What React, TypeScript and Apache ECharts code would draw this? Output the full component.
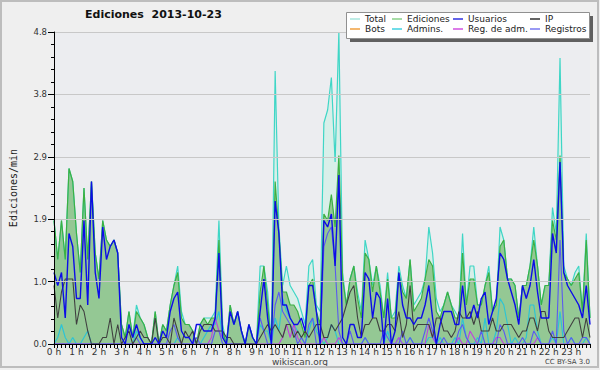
import React, { useEffect, useRef } from "react";
import * as echarts from "echarts";

const FONT = "DejaVu Sans";

const HOUR_LABELS = [
  "0 h", "1 h", "2 h", "3 h", "4 h", "5 h", "6 h", "7 h", "8 h", "9 h", "10 h", "11 h",
  "12 h", "13 h", "14 h", "15 h", "16 h", "17 h", "18 h", "19 h", "20 h", "21 h", "22 h", "23 h",
];
const MINUTES = ["00", "10", "20", "30", "40", "50"];
const CATEGORIES = HOUR_LABELS.flatMap((_, h) => MINUTES.map((m) => `${h}:${m}`));

const Y_MAX = 4.8;
const Y_STEP = 0.96;

const TOTAL = [
  1.9, 1.3, 1.9, 1.3, 2.7, 2.5, 1.7, 1.1, 2.4, 1.3, 2.5, 1.4,
  1.0, 1.9, 1.6, 1.5, 1.6, 1.4, 0.3, 0.1, 0.5, 0.1, 0.6, 0.4,
  0.3, 0.1, 0.0, 0.5, 0.0, 0.3, 0.2, 0.6, 0.9, 1.2, 0.5, 0.3,
  0.3, 0.2, 0.0, 0.3, 0.4, 0.4, 0.4, 0.5, 1.9, 0.3, 0.0, 0.6,
  0.3, 0.5, 0.2, 0.0, 0.3, 0.1, 0.0, 1.2, 1.2, 0.8, 0.0, 4.2,
  1.8, 0.9, 1.2, 0.9, 0.8, 0.7, 0.5, 0.3, 1.2, 1.3, 0.6, 0.5,
  3.4, 3.6, 4.1, 2.8, 4.8, 1.1, 0.6, 1.0, 1.2, 0.8, 0.5, 1.6,
  1.3, 0.9, 1.2, 0.9, 0.4, 1.1, 0.4, 0.5, 1.2, 0.9, 0.7, 1.3,
  0.6, 0.7, 0.8, 1.0, 1.8, 1.4, 0.7, 0.5, 0.6, 0.8, 0.6, 0.5,
  0.4, 1.7, 0.6, 1.2, 1.2, 0.6, 0.6, 0.9, 1.2, 0.5, 0.6, 1.8,
  1.6, 1.0, 1.0, 0.9, 0.4, 0.9, 0.9, 1.2, 1.8, 1.2, 0.6, 0.9,
  0.9, 2.1, 1.7, 4.4, 1.2, 1.0, 0.9, 1.1, 1.2, 0.5, 1.7, 0.4,
];

const EDICIONES = [
  1.9, 1.3, 1.9, 1.3, 2.7, 2.5, 1.7, 1.1, 2.4, 1.3, 2.5, 1.4,
  1.0, 1.9, 1.6, 1.5, 1.6, 1.4, 0.3, 0.1, 0.5, 0.1, 0.5, 0.4,
  0.3, 0.1, 0.0, 0.5, 0.0, 0.3, 0.2, 0.6, 0.9, 1.1, 0.4, 0.3,
  0.3, 0.2, 0.0, 0.3, 0.4, 0.3, 0.4, 0.4, 1.6, 0.2, 0.0, 0.6,
  0.3, 0.5, 0.2, 0.0, 0.3, 0.1, 0.0, 0.8, 1.2, 0.6, 0.0, 2.5,
  1.7, 0.8, 0.8, 0.6, 0.6, 0.5, 0.3, 0.1, 0.9, 1.0, 0.5, 0.3,
  2.0, 1.9, 2.3, 1.8, 2.9, 1.0, 0.6, 1.0, 1.2, 0.7, 0.4, 1.4,
  1.3, 0.8, 1.2, 0.8, 0.4, 1.0, 0.4, 0.4, 1.1, 0.8, 0.7, 1.3,
  0.5, 0.6, 0.7, 1.0, 1.3, 1.2, 0.5, 0.4, 0.6, 0.8, 0.6, 0.4,
  0.4, 1.4, 0.6, 1.0, 1.0, 0.6, 0.6, 0.9, 1.1, 0.5, 0.6, 1.5,
  1.6, 1.0, 1.0, 0.9, 0.4, 0.9, 0.9, 1.2, 1.6, 1.2, 0.6, 0.9,
  0.9, 1.9, 1.6, 2.9, 1.1, 1.0, 0.9, 1.0, 1.1, 0.5, 1.6, 0.4,
];

const USUARIOS = [
  1.1, 0.9, 1.1, 0.4, 1.7, 1.5, 0.7, 0.7, 1.9, 0.6, 2.5, 1.1,
  0.7, 1.8, 1.3, 1.5, 1.6, 1.4, 0.1, 0.0, 0.3, 0.1, 0.3, 0.1,
  0.0, 0.0, 0.0, 0.1, 0.0, 0.2, 0.1, 0.5, 0.7, 0.8, 0.2, 0.1,
  0.1, 0.0, 0.3, 0.3, 0.2, 0.2, 0.2, 0.4, 1.4, 0.1, 0.0, 0.5,
  0.3, 0.5, 0.2, 0.0, 0.3, 0.1, 0.0, 0.5, 1.0, 0.4, 0.0, 2.2,
  1.7, 0.6, 0.6, 0.4, 0.3, 0.3, 0.4, 0.2, 0.9, 0.9, 0.5, 0.0,
  1.9, 1.8, 2.0, 1.2, 2.6, 0.1, 0.0, 0.3, 0.3, 0.1, 0.1, 1.1,
  1.0, 0.4, 0.8, 0.7, 0.0, 0.7, 0.0, 0.2, 1.1, 0.6, 0.4, 0.4,
  0.3, 0.4, 0.4, 0.6, 0.9, 0.4, 0.0, 0.3, 0.5, 0.5, 0.5, 0.3,
  0.3, 0.9, 0.4, 0.4, 0.6, 0.4, 0.7, 0.8, 0.3, 0.5, 0.7, 1.4,
  1.3, 1.0, 0.8, 0.6, 0.3, 0.9, 0.7, 0.9, 1.3, 0.8, 0.4, 0.4,
  0.4, 1.7, 1.4, 2.8, 1.1, 0.9, 0.8, 0.7, 0.6, 0.4, 0.9, 0.3,
];

const IP = [
  0.9, 0.4, 0.8, 1.0, 1.0, 1.0, 0.3, 0.6, 0.5, 0.2, 0.0, 0.0,
  0.0, 0.1, 0.1, 0.4, 0.0, 0.3, 0.0, 0.1, 0.2, 0.0, 0.1, 0.2,
  0.1, 0.1, 0.0, 0.4, 0.0, 0.1, 0.1, 0.0, 0.4, 0.2, 0.0, 0.2,
  0.1, 0.2, 0.0, 0.2, 0.3, 0.3, 0.3, 0.2, 0.2, 0.2, 0.1, 0.1,
  0.0, 0.0, 0.0, 0.0, 0.0, 0.0, 0.0, 0.1, 0.2, 0.3, 0.2, 0.3,
  0.2, 0.1, 0.3, 0.3, 0.1, 0.2, 0.1, 0.2, 0.1, 0.2, 0.3, 0.3,
  0.1, 0.1, 0.3, 0.2, 0.3, 0.4, 0.6, 0.8, 0.9, 0.4, 0.1, 0.3,
  0.3, 0.4, 0.4, 0.2, 0.2, 0.3, 0.3, 0.2, 0.5, 0.1, 0.3, 0.9,
  0.2, 0.3, 0.3, 0.3, 0.3, 0.1, 0.4, 0.4, 0.2, 0.2, 0.1, 0.2,
  0.5, 0.4, 0.4, 0.5, 0.3, 0.5, 0.2, 0.2, 0.2, 0.4, 0.2, 0.2,
  0.3, 0.3, 0.3, 0.2, 0.1, 0.2, 0.2, 0.4, 0.4, 0.2, 0.5, 0.5,
  0.2, 0.1, 0.1, 0.1, 0.1, 0.2, 0.3, 0.4, 0.4, 0.1, 0.4, 0.1,
];

const BOTS: number[] = [];

const ADMINS = [
  0.0, 0.1, 0.3, 0.1, 0.0, 0.1, 0.0, 0.0, 0.1, 0.2, 0.0, 0.0,
  0.0, 0.0, 0.0, 0.0, 0.0, 0.0, 0.0, 0.0, 0.0, 0.0, 0.2, 0.1,
  0.0, 0.0, 0.0, 0.0, 0.0, 0.0, 0.0, 0.0, 0.0, 0.1, 0.0, 0.0,
  0.0, 0.0, 0.0, 0.0, 0.1, 0.2, 0.3, 0.3, 0.5, 0.1, 0.0, 0.0,
  0.0, 0.0, 0.0, 0.0, 0.0, 0.0, 0.0, 0.3, 0.2, 0.2, 0.0, 0.4,
  0.2, 0.7, 0.5, 0.4, 0.3, 0.2, 0.1, 0.0, 0.2, 0.4, 0.2, 0.1,
  0.0, 0.1, 0.3, 0.2, 0.0, 0.0, 0.0, 0.0, 0.0, 0.0, 0.0, 0.1,
  0.0, 0.0, 0.0, 0.0, 0.0, 0.2, 0.0, 0.0, 0.1, 0.0, 0.0, 0.1,
  0.0, 0.0, 0.0, 0.0, 0.1, 0.1, 0.0, 0.1, 0.0, 0.0, 0.0, 0.1,
  0.0, 0.4, 0.1, 0.0, 0.0, 0.1, 0.0, 0.4, 0.0, 0.0, 0.2, 0.7,
  0.6, 0.3, 0.0, 0.1, 0.0, 0.0, 0.1, 0.6, 0.6, 0.2, 0.0, 0.0,
  0.0, 0.1, 0.0, 0.5, 0.0, 0.0, 0.1, 0.0, 0.0, 0.0, 0.1, 0.0,
];

const REG_ADM = [
  0, 0, 0, 0, 0, 0, 0, 0, 0, 0, 0, 0,
  0, 0, 0, 0, 0, 0, 0, 0, 0, 0, 0, 0,
  0, 0, 0, 0, 0, 0, 0, 0, 0, 0, 0, 0,
  0, 0, 0, 0, 0, 0, 0.1, 0.4, 0.2, 0.1, 0, 0,
  0, 0, 0, 0, 0, 0, 0, 0, 0, 0, 0, 0,
  0, 0.1, 0.3, 0.1, 0.3, 0.1, 0, 0, 0, 0, 0, 0,
  0.1, 0, 0, 0, 0.1, 0, 0, 0, 0, 0, 0, 0,
  0, 0, 0, 0, 0, 0, 0, 0, 0.1, 0, 0, 0,
  0, 0, 0, 0, 0.3, 0.1, 0, 0, 0, 0, 0, 0,
  0.1, 0, 0, 0.2, 0.1, 0, 0, 0, 0, 0, 0.1, 0.1,
  0, 0, 0, 0, 0, 0, 0, 0, 0, 0.1, 0, 0,
  0, 0, 0, 0, 0, 0, 0, 0, 0, 0, 0, 0,
];

const REGISTROS = [
  0, 0, 0, 0, 0, 0, 0, 0, 0, 0, 0, 0,
  0, 0, 0, 0, 0, 0, 0, 0, 0, 0, 0.1, 0,
  0, 0, 0, 0, 0, 0, 0, 0.2, 0.3, 0.1, 0, 0,
  0, 0, 0.1, 0, 0, 0, 0, 0.2, 0.2, 0, 0, 0,
  0, 0, 0, 0, 0, 0, 0, 0.4, 0.2, 0, 0, 0.6,
  0.8, 0.5, 0.4, 0.3, 0.2, 0, 0.1, 0, 0.3, 0.4, 0, 0,
  1.5, 1.7, 1.8, 1.2, 0.2, 0, 0, 0.2, 0, 0, 0, 0.1,
  0, 0, 0, 0, 0.2, 0.1, 0, 0, 0, 0.2, 0, 0.1,
  0, 0, 0, 0.2, 0.4, 0.2, 0, 0, 0.1, 0, 0, 0,
  0.2, 0.3, 0.1, 0, 0, 0, 0.2, 0, 0, 0, 0, 0.3,
  0.2, 0, 0, 0, 0, 0.1, 0, 0, 0.2, 0.1, 0, 0,
  0, 0.2, 0, 1.6, 0.2, 0, 0.1, 0, 0, 0.1, 0.1, 0,
];

function lineSeries(name: string, data: number[], color: string, width: number, area?: string) {
  return {
    name,
    type: "line",
    data,
    symbol: "none",
    showSymbol: false,
    smooth: false,
    lineStyle: { color, width },
    itemStyle: { color },
    areaStyle: area ? { color: area, opacity: 1 } : undefined,
    emphasis: { disabled: true },
  };
}

const legendBase = {
  orient: "vertical",
  top: 14,
  padding: 0,
  itemGap: 0,
  itemWidth: 10,
  itemHeight: 1.5,
  icon: "rect",
  selectedMode: false,
  z: 20,
  textStyle: { fontSize: 9, fontFamily: FONT, color: "#222", lineHeight: 10 },
};

function legendItem(name: string, color: string) {
  return { name, itemStyle: { color, borderWidth: 0 } };
}

export default function App() {
  const ref = useRef<HTMLDivElement>(null);
  useEffect(() => {
    if (!ref.current) return;
    const chart = echarts.init(ref.current, null, { renderer: "svg" });
    chart.setOption({
      animation: false,
      backgroundColor: "#efefef",
      textStyle: { fontFamily: FONT },
      title: {
        text: "Ediciones  2013-10-23",
        left: 85,
        top: 9,
        padding: 0,
        textStyle: { fontSize: 11, fontWeight: "bold", fontFamily: FONT, color: "#111" },
      },
      legend: [
        { ...legendBase, left: 350, data: [legendItem("Total", "#a8e6de"), legendItem("Bots", "#f0a040")] },
        { ...legendBase, left: 392, data: [legendItem("Ediciones", "#88d088"), legendItem("Admins.", "#40d0e0")] },
        { ...legendBase, left: 453, data: [legendItem("Usuarios", "#3030e0"), legendItem("Reg. de adm.", "#d050e0")] },
        { ...legendBase, left: 530, data: [legendItem("IP", "#303030"), legendItem("Registros", "#7878f0")] },
      ],
      grid: {
        left: 46,
        right: 10,
        top: 32,
        bottom: 26,
        show: true,
        backgroundColor: "#ecedf0",
        borderWidth: 0,
      },
      xAxis: {
        type: "category",
        data: CATEGORIES,
        boundaryGap: false,
        z: 10,
        axisLine: { lineStyle: { color: "#000", width: 1 } },
        axisTick: { show: true, interval: 0, length: 4, lineStyle: { color: "#000" } },
        axisLabel: {
          interval: (index: number) => index % 6 === 0,
          formatter: (_: string, index: number) => HOUR_LABELS[Math.floor(index / 6)],
          margin: 3,
          fontSize: 9,
          fontFamily: FONT,
          color: "#333",
        },
        splitLine: { show: false },
      },
      yAxis: {
        type: "value",
        min: 0,
        max: Y_MAX,
        interval: Y_STEP,
        z: 10,
        name: "Ediciones/min",
        nameLocation: "middle",
        nameGap: 36,
        nameRotate: 90,
        nameTextStyle: { fontFamily: "DejaVu Sans Mono", fontSize: 10, color: "#222" },
        axisLine: { show: true, lineStyle: { color: "#000", width: 1 } },
        axisTick: { show: true, length: 6, lineStyle: { color: "#000" } },
        minorTick: { show: true, splitNumber: 5, length: 3, lineStyle: { color: "#000" } },
        axisLabel: {
          formatter: (v: number) => v.toFixed(1),
          margin: 7,
          fontSize: 8.5,
          fontFamily: FONT,
          color: "#333",
        },
        splitLine: { show: true, lineStyle: { color: "#c8c8c8", width: 1 } },
      },
      series: [
        lineSeries("Total", TOTAL, "#3fd6c6", 1.2, "#d8efe9"),
        lineSeries("Ediciones", EDICIONES, "#3cb043", 1.2, "#94c894"),
        lineSeries("Bots", BOTS, "#f0a040", 1.2),
        lineSeries("Admins.", ADMINS, "#2ec4d4", 1.2),
        lineSeries("Reg. de adm.", REG_ADM, "#c040e0", 1.1),
        lineSeries("Registros", REGISTROS, "#5a5af0", 1.1),
        lineSeries("IP", IP, "#404040", 1.1),
        lineSeries("Usuarios", USUARIOS, "#0c0ce8", 1.4),
      ],
      graphic: [
        {
          type: "rect",
          silent: true,
          z: 15,
          shape: { x: 350, y: 16, width: 243, height: 26 },
          style: { fill: "#606060" },
        },
        {
          type: "rect",
          silent: true,
          z: 16,
          shape: { x: 346.5, y: 12.5, width: 243, height: 26 },
          style: { fill: "#ffffff", stroke: "#909090", lineWidth: 1 },
        },
        {
          type: "text",
          silent: true,
          z: 16,
          x: 300,
          y: 362,
          style: {
            text: "wikiscan.org",
            fontSize: 9,
            fontFamily: FONT,
            fill: "#444",
            textAlign: "center",
            textVerticalAlign: "middle",
          },
        },
        {
          type: "text",
          silent: true,
          z: 16,
          x: 590,
          y: 362,
          style: {
            text: "CC BY-SA 3.0",
            fontSize: 7,
            fontFamily: FONT,
            fill: "#444",
            textAlign: "right",
            textVerticalAlign: "middle",
          },
        },
        {
          type: "rect",
          silent: true,
          z: 100,
          shape: { x: 1, y: 1, width: 597, height: 366 },
          style: { fill: "none", stroke: "#bdbdbd", lineWidth: 2 },
        },
      ],
    });
    return () => chart.dispose();
  }, []);
  return (
    <div
      ref={ref}
      style={{ position: "absolute", left: 0, top: 0, width: 600, height: 370 }}
    />
  );
}
